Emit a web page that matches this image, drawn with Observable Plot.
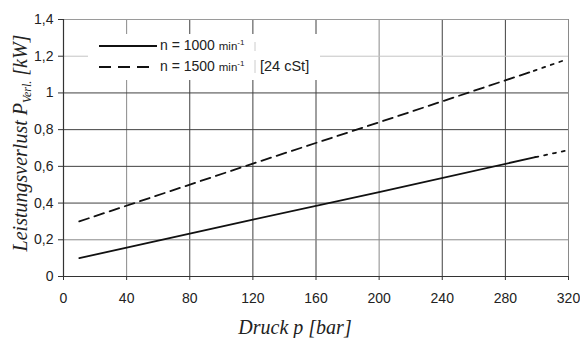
<!DOCTYPE html>
<html>
<head>
<meta charset="utf-8">
<script src="https://cdn.jsdelivr.net/npm/d3@7"></script>
<script src="https://cdn.jsdelivr.net/npm/@observablehq/plot@0.6"></script>
<style>
  html, body { margin: 0; padding: 0; background: #fff; }
  #chart { width: 580px; height: 338px; }
</style>
</head>
<body>
<div id="chart"></div>
<script>
// ---- data ----
const xTicks = [0, 40, 80, 120, 160, 200, 240, 280, 320];
const yTicks = [0, 0.2, 0.4, 0.6, 0.8, 1.0, 1.2, 1.4];

// n = 1000 min^-1 (measured part)
const p1000 = [10, 120, 200, 299];
const v1000 = [0.10, 0.31, 0.46, 0.65];
// n = 1000 extrapolation (dotted)
const p1000ext = [299, 318];
const v1000ext = [0.65, 0.685];

// n = 1500 min^-1 (measured part)
const p1500 = [10, 120, 200, 298];
const v1500 = [0.30, 0.615, 0.84, 1.12];
// n = 1500 extrapolation (dotted)
const p1500ext = [298, 318];
const v1500ext = [1.12, 1.18];

const legendLabels = ["n = 1000", "n = 1500"];
const legendUnit = "min";
const legendNote = "[24 cSt]";
const xTitle = "Druck p [bar]";
const yTitle = ["Leistungsverlust P", "Verl.", " [kW]"];

const toRows = (xs, ys) => xs.map((x, i) => ({x, y: ys[i]}));
const fmtY = d => (Math.round(d * 10) / 10).toString().replace(".", ",");

const lightX = new Set([40, 200]);
const lightY = new Set([0.2, 1.2]);

const chart = Plot.plot({
  width: 580,
  height: 338,
  marginLeft: 63,
  marginRight: 12,
  marginTop: 19,
  marginBottom: 62,
  style: {fontFamily: "'Liberation Sans', Arial, sans-serif", fontSize: "13.5px", color: "#222", background: "#fff", overflow: "visible"},
  x: {domain: [0, 320], label: null},
  y: {domain: [0, 1.4], label: null},
  marks: [
    Plot.ruleX(xTicks.filter(d => d > 0), {x: d => d, stroke: d => d === 320 ? "#8a8a8a" : (lightX.has(d) ? "#8a8a8a" : "#404040"), strokeWidth: 1}),
    Plot.ruleY(yTicks.filter(d => d > 0), {y: d => d, stroke: d => d === 1.4 ? "#9a9a9a" : (lightY.has(d) ? (d === 1.2 ? "#c4c4c4" : "#8a8a8a") : "#404040"), strokeWidth: 1}),
    Plot.ruleX([0], {stroke: "#333", strokeWidth: 1.2}),
    Plot.ruleY([0], {stroke: "#333", strokeWidth: 1.2}),
    Plot.axisX({ticks: xTicks, tickSize: 4, tickPadding: 13, tickFormat: d => String(d), label: null, stroke: "#333", fontSize: 14, fill: "#222"}),
    Plot.axisY({ticks: yTicks, tickSize: 5, tickPadding: 5, tickFormat: fmtY, label: null, stroke: "#333", fontSize: 14, fill: "#222"}),
    Plot.line(toRows(p1000, v1000), {x: "x", y: "y", stroke: "#111", strokeWidth: 1.8}),
    Plot.line(toRows(p1000ext, v1000ext), {x: "x", y: "y", stroke: "#111", strokeWidth: 1.8, strokeDasharray: "3,6"}),
    Plot.line(toRows(p1500, v1500), {x: "x", y: "y", stroke: "#111", strokeWidth: 1.8, strokeDasharray: "10,6"}),
    Plot.line(toRows(p1500ext, v1500ext), {x: "x", y: "y", stroke: "#111", strokeWidth: 1.8, strokeDasharray: "3,6"})
  ]
});

document.getElementById("chart").appendChild(chart);

// ---- legend & axis titles (annotations) ----
const svg = d3.select(chart);
const serif = "'Liberation Serif', 'Times New Roman', serif";
const sans = "'Liberation Sans', Arial, sans-serif";

const lg = svg.append("g").attr("text-anchor", "start");
lg.append("rect").attr("x", 88).attr("y", 34).attr("width", 232).attr("height", 46).attr("fill", "#fff");
lg.append("line").attr("x1", 255).attr("x2", 255).attr("y1", 42).attr("y2", 51).attr("stroke", "#ccc");
lg.append("line").attr("x1", 255).attr("x2", 255).attr("y1", 60).attr("y2", 73).attr("stroke", "#ccc");
const rows = [{y: 46, dash: null}, {y: 67, dash: "12,7"}];
rows.forEach((r, i) => {
  lg.append("line").attr("x1", 99).attr("x2", i === 0 ? 157 : 152).attr("y1", r.y).attr("y2", r.y)
    .attr("stroke", "#111").attr("stroke-width", 1.8).attr("stroke-dasharray", r.dash);
  const t = lg.append("text").attr("x", 160).attr("y", r.y + 4).attr("text-anchor", "start")
    .attr("font-family", sans).attr("fill", "#222").attr("font-size", 14);
  t.append("tspan").text(legendLabels[i] + " ");
  t.append("tspan").attr("font-size", 11.5).text(legendUnit);
  t.append("tspan").attr("font-size", 8).attr("dy", -5).text("-1");
});
lg.append("text").attr("x", 260).attr("y", 71).attr("text-anchor", "start").attr("font-family", sans)
  .attr("font-size", 14.5).attr("fill", "#222").text(legendNote);

svg.append("text").attr("x", 295).attr("y", 334).attr("text-anchor", "middle")
  .attr("font-family", serif).attr("font-style", "italic").attr("font-size", 20).attr("fill", "#222").text(xTitle);

const yt = svg.append("text").attr("transform", "translate(27,143) rotate(-90)").attr("text-anchor", "middle")
  .attr("font-family", serif).attr("font-style", "italic").attr("font-size", 20).attr("fill", "#222");
yt.append("tspan").text(yTitle[0]);
yt.append("tspan").attr("font-size", 12).attr("dy", 4).text(yTitle[1]);
yt.append("tspan").attr("dy", -4).text(yTitle[2]);
</script>
</body>
</html>
